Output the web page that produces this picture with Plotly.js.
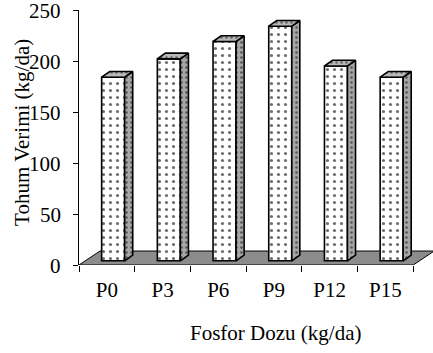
<!DOCTYPE html>
<html>
<head>
<meta charset="utf-8">
<script src="https://cdn.plot.ly/plotly-3.0.1.min.js"></script>
</head>
<body style="margin:0">
<div id="chart" style="width:433px;height:353px"></div>
<script>
// Phosphorus dose levels and seed yield (kg/da)
const doses = ['P0', 'P3', 'P6', 'P9', 'P12', 'P15'];
const yields = [180, 198, 215, 230, 191, 180];

const yAxisTitle = 'Tohum Verimi (kg/da)';
const xAxisTitle = 'Fosfor Dozu (kg/da)';
const yTicks = [0, 50, 100, 150, 200, 250];

// Pseudo-3D geometry, expressed in axis units
const floorDX = 0.377, floorDY = 13.7;     // depth of the floor
const barDepthFrac = 0.3;                   // where bars stand on the floor
const barW = 0.413;                         // front face width
const barDX = 0.145, barDY = 5.6;           // depth of each column

const baseX = floorDX * barDepthFrac;
const baseY = floorDY * barDepthFrac;
const idx = doses.map((_, i) => i);
const xFront = idx.map(i => i + baseX);

const outline = { color: '#000000', width: 1.6 };

function serif() {
  return { family: 'Times New Roman', size: 21, color: '#000000' };
}

const traces = [];

// front faces
traces.push({
  type: 'bar',
  x: xFront,
  y: yields,
  base: baseY,
  width: barW,
  marker: {
    color: '#ffffff',
    line: outline,
    pattern: { shape: '.', fgcolor: '#6e6e6e', bgcolor: '#ffffff', size: 7, solidity: 0.16 }
  },
  hoverinfo: 'skip',
  showlegend: false
});

// side and top faces
yields.forEach((v, i) => {
  const xl = xFront[i] - barW / 2;
  const xr = xFront[i] + barW / 2;
  const top = baseY + v;
  traces.push({
    type: 'scatter', mode: 'lines',
    x: [xr, xr + barDX, xr + barDX, xr, xr],
    y: [baseY, baseY + barDY, top + barDY, top, baseY],
    fill: 'toself', fillcolor: '#a6a6a6',
    fillpattern: { shape: '.', fgcolor: '#555555', bgcolor: '#a6a6a6', size: 5, solidity: 0.2 },
    line: outline,
    hoverinfo: 'skip', showlegend: false
  });
  traces.push({
    type: 'scatter', mode: 'lines',
    x: [xl, xl + barDX, xr + barDX, xr, xl],
    y: [top, top + barDY, top + barDY, top, top],
    fill: 'toself', fillcolor: '#b8b8b8',
    fillpattern: { shape: '.', fgcolor: '#666666', bgcolor: '#b8b8b8', size: 5, solidity: 0.2 },
    line: outline,
    hoverinfo: 'skip', showlegend: false
  });
});

const n = doses.length;
const floorPath = 'M ' + (-0.5) + ',0 L ' + (n - 0.5) + ',0 L ' + (n - 0.5 + floorDX) + ',' + floorDY +
  ' L ' + (-0.5 + floorDX) + ',' + floorDY + ' Z';

// value-axis labels, placed on the y scale
const yLabelAnn = yTicks.map(t => ({
  text: String(t), xref: 'paper', yref: 'y',
  x: -0.046, y: t, xanchor: 'right', yanchor: 'middle', yshift: -1,
  showarrow: false, font: serif()
}));

const layout = {
  width: 433,
  height: 353,
  margin: { l: 79, r: 0, t: 10, b: 88 },
  paper_bgcolor: '#ffffff',
  plot_bgcolor: 'rgba(0,0,0,0)',
  font: serif(),
  showlegend: false,
  xaxis: {
    range: [-0.5, n - 0.5 + 354 / 55.7 - n],
    tickmode: 'array',
    tickvals: idx,
    ticktext: doses,
    ticks: '',
    ticklabelstandoff: 10,
    showgrid: false,
    zeroline: false,
    showline: false,
    tickfont: serif(),
    minor: {
      tickmode: 'array',
      tickvals: idx.concat([n]).map(i => i - 0.5),
      ticks: 'outside',
      ticklen: 6,
      tickwidth: 1,
      tickcolor: '#000000',
      showgrid: false
    }
  },
  yaxis: {
    range: [0, 250],
    tickmode: 'array',
    tickvals: yTicks,
    ticks: 'outside',
    ticklen: 5,
    tickwidth: 1,
    tickcolor: '#000000',
    showticklabels: false,
    showgrid: false,
    zeroline: false,
    showline: true,
    linecolor: '#000000',
    linewidth: 1.2
  },
  shapes: [{
    type: 'path', xref: 'x', yref: 'y', layer: 'below',
    path: floorPath,
    fillcolor: '#8c8c8c',
    line: { color: '#000000', width: 1 }
  }],
  annotations: yLabelAnn.concat([
    {
      text: xAxisTitle, xref: 'paper', yref: 'paper',
      x: 0.556, y: -0.265, xanchor: 'center', yanchor: 'middle',
      showarrow: false, font: serif()
    },
    {
      text: yAxisTitle, xref: 'paper', yref: 'paper',
      x: -0.161, y: 0.518, xanchor: 'center', yanchor: 'middle', textangle: -90,
      showarrow: false, font: serif()
    }
  ])
};

Plotly.newPlot('chart', traces, layout, { displayModeBar: false });
</script>
</body>
</html>
